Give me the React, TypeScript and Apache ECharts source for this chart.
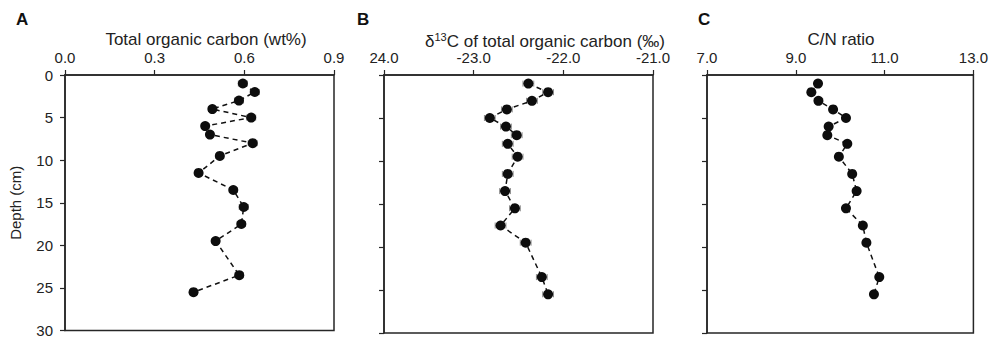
import React, { useEffect, useRef } from "react";
import * as echarts from "echarts";

const DEPTH = [1, 2, 3, 4, 5, 6, 7, 8, 9.5, 11.5, 13.5, 15.5, 17.5, 19.5, 23.5, 25.5];
const TOC = [0.595, 0.635, 0.582, 0.493, 0.623, 0.469, 0.485, 0.628, 0.518, 0.447, 0.563, 0.598, 0.59, 0.504, 0.583, 0.43];
const TOC_ERR = [0.015, 0.015, 0.015, 0.012, 0.015, 0.012, 0.012, 0.015, 0.013, 0.012, 0.013, 0.015, 0.014, 0.012, 0.014, 0.012];
const D13C = [-22.39, -22.17, -22.35, -22.63, -22.82, -22.64, -22.52, -22.62, -22.51, -22.62, -22.65, -22.54, -22.7, -22.42, -22.24, -22.17];
const D13C_ERR = [0.06, 0.06, 0.06, 0.06, 0.06, 0.06, 0.06, 0.06, 0.06, 0.06, 0.06, 0.06, 0.06, 0.06, 0.06, 0.06];
const CN = [9.5, 9.35, 9.51, 9.84, 10.13, 9.74, 9.71, 10.16, 9.97, 10.27, 10.37, 10.13, 10.51, 10.59, 10.88, 10.76];
const CN_OFFSET = 7;

const TOC_TICKS = { min: 0, max: 0.9, interval: 0.3 };
const D13C_TICKS = { min: -24, max: -21, interval: 1 };
const CN_TICKS = { min: 7, max: 13, interval: 2 };
const DEPTH_TICKS = { min: 0, max: 30, interval: 5 };

const FONT = "'Liberation Sans', Arial, sans-serif";
const INK = "#222";

export default function App() {
  const ref = useRef<HTMLDivElement>(null);
  useEffect(() => {
    if (!ref.current) return;
    const chart = echarts.init(ref.current, undefined, { renderer: "svg" });
    const lefts = [65, 384, 707];
    const grids = lefts.map((l) => ({
      left: l,
      top: 75,
      width: 269,
      height: 258,
      show: true,
      borderColor: "#262626",
      borderWidth: 1.5,
      backgroundColor: "transparent",
    }));
    const axisCommon = {
      type: "value" as const,
      axisLine: { show: true, lineStyle: { color: "#262626", width: 1.5 } },
      axisTick: { show: true, inside: false, length: 5, lineStyle: { color: "#262626", width: 1.2 } },
      splitLine: { show: false },
    };
    const labelBase = { fontSize: 15, color: INK, fontFamily: FONT, margin: 10 };
    const xAxes = [
      {
        ...axisCommon,
        gridIndex: 0,
        position: "top",
        ...TOC_TICKS,
        axisLabel: { ...labelBase, formatter: (v: number) => v.toFixed(1) },
      },
      {
        ...axisCommon,
        gridIndex: 1,
        position: "top",
        ...D13C_TICKS,
        axisLabel: {
          ...labelBase,
          formatter: (v: number) => (v === D13C_TICKS.min ? Math.abs(v).toFixed(1) : v.toFixed(1)),
        },
      },
      {
        ...axisCommon,
        gridIndex: 2,
        position: "top",
        min: CN_TICKS.min - CN_OFFSET,
        max: CN_TICKS.max - CN_OFFSET,
        interval: CN_TICKS.interval,
        axisLabel: { ...labelBase, formatter: (v: number) => (v + CN_OFFSET).toFixed(1) },
      },
    ];
    const yAxes = [0, 1, 2].map((i) => ({
      ...axisCommon,
      gridIndex: i,
      inverse: true,
      ...DEPTH_TICKS,
      name: i === 0 ? "Depth (cm)" : "",
      nameLocation: "middle",
      nameRotate: 90,
      nameGap: 42,
      nameTextStyle: { fontSize: 15, color: INK, fontFamily: FONT },
      axisLabel: { show: i === 0, fontSize: 15, color: INK, fontFamily: FONT, margin: 12 },
    }));

    const errBars = (idx: number, xs: number[], errs: number[]) => ({
      type: "custom",
      xAxisIndex: idx,
      yAxisIndex: idx,
      z: 1,
      data: xs.map((x, i) => [x, DEPTH[i], errs[i]]),
      encode: { x: 0, y: 1 },
      renderItem: (params: any, api: any) => {
        const x = api.value(0);
        const y = api.value(1);
        const e = api.value(2);
        const p1 = api.coord([x - e, y]);
        const p2 = api.coord([x + e, y]);
        const h = 3;
        const st = { stroke: "#8a8a8a", lineWidth: 1 };
        return {
          type: "group",
          children: [
            { type: "line", shape: { x1: p1[0], y1: p1[1], x2: p2[0], y2: p2[1] }, style: st },
            { type: "line", shape: { x1: p1[0], y1: p1[1] - h, x2: p1[0], y2: p1[1] + h }, style: st },
            { type: "line", shape: { x1: p2[0], y1: p2[1] - h, x2: p2[0], y2: p2[1] + h }, style: st },
          ],
        };
      },
    });
    const dashed = (idx: number, xs: number[]) => ({
      type: "line",
      xAxisIndex: idx,
      yAxisIndex: idx,
      z: 2,
      symbol: "none",
      data: xs.map((x, i) => [x, DEPTH[i]]),
      lineStyle: { color: "#111", width: 1.5, type: [5, 4] },
    });
    const dots = (idx: number, xs: number[]) => ({
      type: "scatter",
      xAxisIndex: idx,
      yAxisIndex: idx,
      z: 3,
      symbol: "circle",
      symbolSize: 10,
      itemStyle: { color: "#0d0d0d", opacity: 1 },
      data: xs.map((x, i) => [x, DEPTH[i]]),
    });
    const cnShifted = CN.map((v) => v - CN_OFFSET);

    const titleStyle = { fontSize: 17, color: INK, fontFamily: FONT, fontWeight: "normal" as const };
    chart.setOption({
      animation: false,
      textStyle: { fontFamily: FONT },
      title: [
        { text: "Total organic carbon (wt%)", left: 201, top: 26, textAlign: "center", textStyle: titleStyle },
        {
          text: "{n|δ}{s|13}{n|C of total organic carbon (‰)}",
          left: 540,
          top: 26,
          textAlign: "center",
          textStyle: {
            ...titleStyle,
            rich: {
              n: { fontSize: 17, color: INK, fontFamily: FONT, lineHeight: 20 },
              s: { fontSize: 11, color: INK, fontFamily: FONT, lineHeight: 11, verticalAlign: "top" },
            },
          },
        },
        { text: "C/N ratio", left: 836, top: 26, textAlign: "center", textStyle: titleStyle },
      ],
      graphic: [
        { type: "text", left: 16, top: 11, style: { text: "A", font: `bold 17px ${FONT}`, fill: "#111" } },
        { type: "text", left: 357, top: 11, style: { text: "B", font: `bold 17px ${FONT}`, fill: "#111" } },
        { type: "text", left: 698, top: 11, style: { text: "C", font: `bold 17px ${FONT}`, fill: "#111" } },
      ],
      grid: grids,
      xAxis: xAxes,
      yAxis: yAxes,
      series: [
        errBars(0, TOC, TOC_ERR),
        dashed(0, TOC),
        dots(0, TOC),
        errBars(1, D13C, D13C_ERR),
        dashed(1, D13C),
        dots(1, D13C),
        dashed(2, cnShifted),
        dots(2, cnShifted),
      ],
    });
    return () => chart.dispose();
  }, []);
  return <div ref={ref} style={{ position: "fixed", left: 0, top: 0, width: 991, height: 338, background: "#fff" }} />;
}
